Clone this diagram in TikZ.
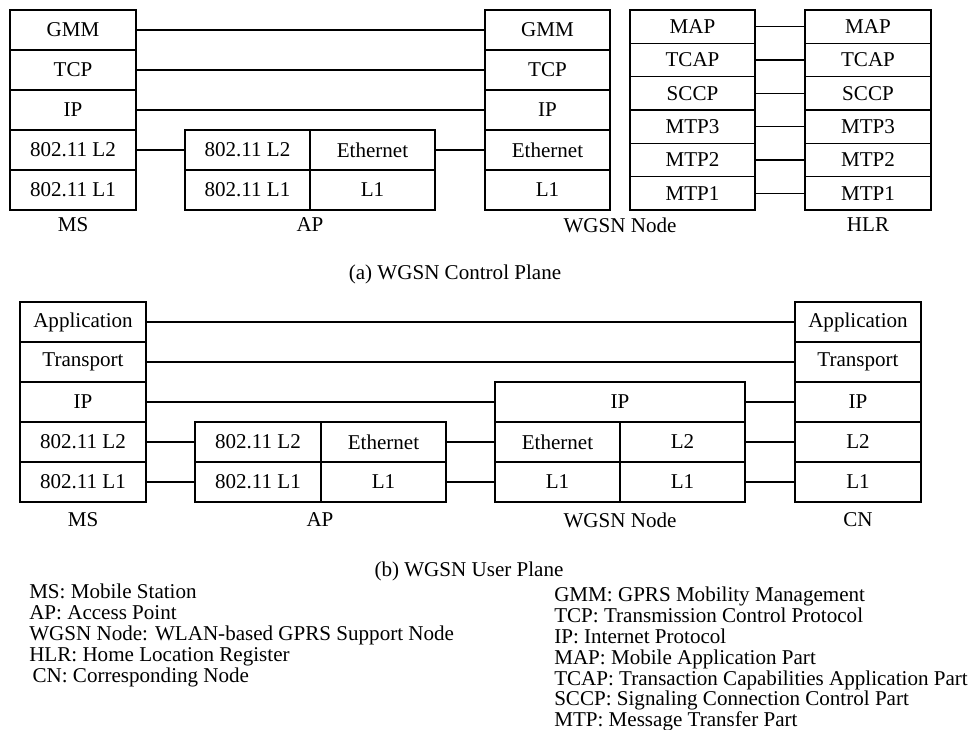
\documentclass[tikz,border=0pt]{standalone}
\usepackage{fontspec}
\setmainfont{Liberation Serif}
\usetikzlibrary{positioning}
\newcommand{\txtsize}{\fontsize{15.8}{15.6}\selectfont}

\begin{document}
\begin{tikzpicture}[
        x=0.75pt, y=-0.75pt,
        cell/.style={draw, line width=0.9pt, inner sep=0pt, minimum width=#1*0.75pt, minimum height=30pt, font=\txtsize},
        cell/.default=126,
        sscell/.style={cell=#1, minimum height=25pt},
        sscell/.default=125,
        line/.style={line width=0.9pt},
        tag/.style={font=\txtsize, inner sep=0pt},
        legend/.style={font=\txtsize, align=left, anchor=north west, inner sep=0pt}
    ]
        \useasboundingbox (0,0) rectangle (971,730);

        % -- (a) control plane: MS stack --
        \node[cell] (cMsGmm) at (73, 30)  {GMM};
        \node[cell] (cMsTcp) at (73, 70)  {TCP};
        \node[cell] (cMsIp)  at (73, 110) {IP};
        \node[cell] (cMsL2)  at (73, 150) {802.11 L2};
        \node[cell] (cMsL1)  at (73, 190) {802.11 L1};
        % -- AP --
        \node[cell=125] (cApL2)  at (247.5, 150) {802.11 L2};
        \node[cell=125] (cApL1)  at (247.5, 190) {802.11 L1};
        \node[cell=125] (cApEth) at (372.5, 150) {Ethernet};
        \node[cell=125] (cApPhy) at (372.5, 190) {L1};
        % -- WGSN node (IP side) --
        \node[cell=125] (cWgGmm) at (547.5, 30)  {GMM};
        \node[cell=125] (cWgTcp) at (547.5, 70)  {TCP};
        \node[cell=125] (cWgIp)  at (547.5, 110) {IP};
        \node[cell=125] (cWgEth) at (547.5, 150) {Ethernet};
        \node[cell=125] (cWgPhy) at (547.5, 190) {L1};
        % -- WGSN node (SS7 side) and HLR --
        \node[sscell] (cWgMap)  at (692.5, 26.67)  {MAP};
        \node[sscell] (cWgTcap) at (692.5, 60)     {TCAP};
        \node[sscell] (cWgSccp) at (692.5, 93.33)  {SCCP};
        \node[sscell] (cWgMtp3) at (692.5, 126.67) {MTP3};
        \node[sscell] (cWgMtp2) at (692.5, 160)    {MTP2};
        \node[sscell] (cWgMtp1) at (692.5, 193.33) {MTP1};
        \node[sscell=126] (hlrMap)  at (868, 26.67)  {MAP};
        \node[sscell=126] (hlrTcap) at (868, 60)     {TCAP};
        \node[sscell=126] (hlrSccp) at (868, 93.33)  {SCCP};
        \node[sscell=126] (hlrMtp3) at (868, 126.67) {MTP3};
        \node[sscell=126] (hlrMtp2) at (868, 160)    {MTP2};
        \node[sscell=126] (hlrMtp1) at (868, 193.33) {MTP1};
        % -- names and caption --
        \node[tag] (cMsName) at (73, 225)  {MS};
        \node[tag] (cApName) at (310, 225) {AP};
        \node[tag] (cWgName) at (620, 225) {WGSN Node};
        \node[tag] (hlrName) at (868, 225) {HLR};
        \node[tag] (capA)    at (455, 274) {(a) WGSN Control Plane};

        % peer links (control plane)
        \draw[line] (cMsGmm.east) -- (cWgGmm.west);
        \draw[line] (cMsTcp.east) -- (cWgTcp.west);
        \draw[line] (cMsIp.east)  -- (cWgIp.west);
        \draw[line] (cMsL2.east)  -- (cApL2.west);
        \draw[line] (cApEth.east) -- (cWgEth.west);
        \draw[line] (cWgMap.east)  -- (hlrMap.west);
        \draw[line] (cWgTcap.east) -- (hlrTcap.west);
        \draw[line] (cWgSccp.east) -- (hlrSccp.west);
        \draw[line] (cWgMtp3.east) -- (hlrMtp3.west);
        \draw[line] (cWgMtp2.east) -- (hlrMtp2.west);
        \draw[line] (cWgMtp1.east) -- (hlrMtp1.west);

        % -- (b) user plane: MS stack --
        \node[cell] (uMsApp) at (83, 322) {Application};
        \node[cell] (uMsTr)  at (83, 362) {Transport};
        \node[cell] (uMsIp)  at (83, 402) {IP};
        \node[cell] (uMsL2)  at (83, 442) {802.11 L2};
        \node[cell] (uMsL1)  at (83, 482) {802.11 L1};
        % -- AP --
        \node[cell] (uApL2)  at (258, 442) {802.11 L2};
        \node[cell] (uApL1)  at (258, 482) {802.11 L1};
        \node[cell=125] (uApEth) at (383.5, 442) {Ethernet};
        \node[cell=125] (uApPhy) at (383.5, 482) {L1};
        % -- WGSN node --
        \node[cell=250] (uWgIp)   at (620, 402)   {IP};
        \node[cell=125] (uWgEth)  at (557.5, 442) {Ethernet};
        \node[cell=125] (uWgPhyA) at (557.5, 482) {L1};
        \node[cell=125] (uWgL2)   at (682.5, 442) {L2};
        \node[cell=125] (uWgPhyB) at (682.5, 482) {L1};
        % -- CN --
        \node[cell] (cnApp) at (858, 322) {Application};
        \node[cell] (cnTr)  at (858, 362) {Transport};
        \node[cell] (cnIp)  at (858, 402) {IP};
        \node[cell] (cnL2)  at (858, 442) {L2};
        \node[cell] (cnL1)  at (858, 482) {L1};
        % -- names and caption --
        \node[tag] (uMsName) at (83, 520)  {MS};
        \node[tag] (uApName) at (320, 520) {AP};
        \node[tag] (uWgName) at (620, 520) {WGSN Node};
        \node[tag] (cnName)  at (858, 520) {CN};
        \node[tag] (capB)    at (469, 571) {(b) WGSN User Plane};

        % peer links (user plane)
        \draw[line] (uMsApp.east) -- (cnApp.west);
        \draw[line] (uMsTr.east)  -- (cnTr.west);
        \draw[line] (uMsIp.east)  -- (uWgIp.west);
        \draw[line] (uWgIp.east)  -- (cnIp.west);
        \draw[line] (uMsL2.east)  -- (uApL2.west);
        \draw[line] (uMsL1.east)  -- (uApL1.west);
        \draw[line] (uApEth.east) -- (uWgEth.west);
        \draw[line] (uApPhy.east) -- (uWgPhyA.west);
        \draw[line] (uWgL2.east)  -- (cnL2.west);
        \draw[line] (uWgPhyB.east) -- (cnL1.west);

        % -- abbreviations --
        \node[legend] (abbrNodes) at (29, 584) {MS: Mobile Station\\
            AP: Access Point\\
            WGSN Node: WLAN-based GPRS Support Node\\
            HLR: Home Location Register\\
            \hspace*{2.5pt}CN: Corresponding Node};
        \node[legend] (abbrProto) at (554, 587) {GMM: GPRS Mobility Management\\
            TCP: Transmission Control Protocol\\
            IP: Internet Protocol\\
            MAP: Mobile Application Part\\
            TCAP: Transaction Capabilities Application Part\\
            SCCP: Signaling Connection Control Part\\
            MTP: Message Transfer Part};
    \end{tikzpicture}
\end{document}
